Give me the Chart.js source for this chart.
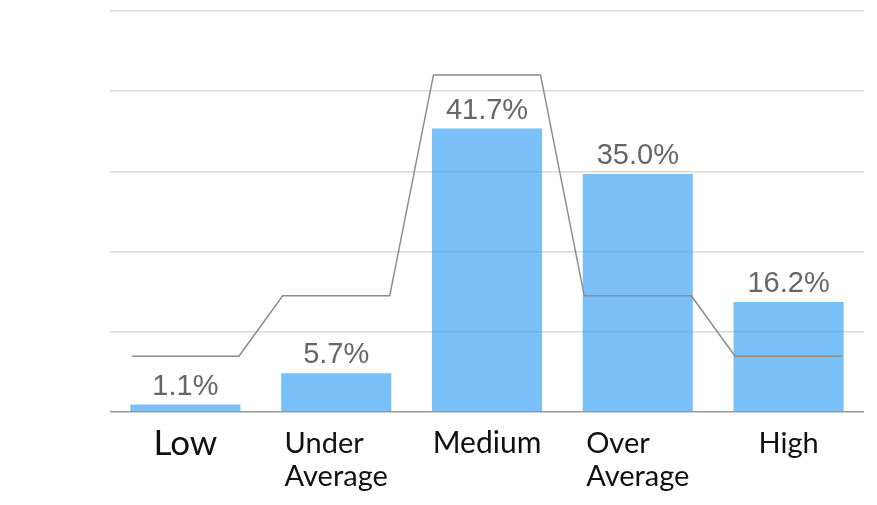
<!DOCTYPE html>
<html>
<head>
<meta charset="utf-8">
<script src="https://cdn.jsdelivr.net/npm/chart.js@4.4.1/dist/chart.umd.min.js"></script>
<style>
  html, body { margin: 0; padding: 0; background: #fff; }
  #wrap { width: 877px; height: 505px; }
</style>
</head>
<body>
<div id="wrap"><canvas id="chart"></canvas></div>
<script>
// category labels, one entry per line
const categories = [["Low"], ["Under", "Average"], ["Medium"], ["Over", "Average"], ["High"]];
// bar values (%)
const shares = [1.1, 5.7, 41.7, 35.0, 16.2];
// gray reference curve (%)
const reference = [8.2, 17.1, 49.6, 17.1, 8.2];

// label font size per category (the source uses uneven sizes)
const labelSizes = [35, 29, 30, 29, 29];
const stepHalf = 0.355;

let refPoints = [];
reference.forEach((v, i) => {
    refPoints.push({ x: i - stepHalf, y: v });
    refPoints.push({ x: i + stepHalf, y: v });
});

const barLabels = {
    id: "barLabels",
    afterDatasetsDraw(chart) {
        let ctx = chart.ctx;
        let meta = chart.getDatasetMeta(0);
        ctx.save();
        ctx.font = "29px 'Liberation Sans', Arial, sans-serif";
        ctx.fillStyle = "#666";
        ctx.textAlign = "center";
        ctx.textBaseline = "alphabetic";
        meta.data.forEach((bar, i) => {
            ctx.fillText(shares[i].toFixed(1) + "%", bar.x, bar.y - 10);
        });
        ctx.restore();
    }
};

const tickLabels = {
    id: "tickLabels",
    afterDraw(chart) {
        let ctx = chart.ctx;
        let xScale = chart.scales.x;
        let bottom = chart.chartArea.bottom;
        ctx.save();
        ctx.fillStyle = "#111";
        ctx.textAlign = "left";
        ctx.textBaseline = "alphabetic";
        categories.forEach((lines, i) => {
            let size = labelSizes[i];
            ctx.font = size + "px Lato, sans-serif";
            let w = Math.max(...lines.map(l => ctx.measureText(l).width));
            let left = xScale.getPixelForValue(i) - w / 2;
            let base = bottom + 41 + (size - 29) / 3;
            lines.forEach((l, k) => ctx.fillText(l, left, base + k * 33));
        });
        ctx.restore();
    }
};

new Chart(document.getElementById("chart").getContext("2d"), {
    type: "bar",
    data: {
        labels: categories.map(c => c.join(" ")),
        datasets: [
            {
                type: "bar",
                data: shares,
                backgroundColor: "rgba(66, 165, 245, 0.7)",
                barPercentage: 0.73,
                categoryPercentage: 1,
                grouped: false,
                order: 2
            },
            {
                type: "line",
                xAxisID: "xl",
                data: refPoints,
                borderColor: "#8c8c8c",
                borderWidth: 1.5,
                pointRadius: 0,
                fill: false,
                tension: 0,
                order: 1
            }
        ]
    },
    options: {
        responsive: true,
        maintainAspectRatio: false,
        animation: false,
        layout: { padding: { left: 110, right: 13, top: 11, bottom: 93 } },
        plugins: {
            legend: { display: false },
            tooltip: { enabled: false }
        },
        scales: {
            x: { display: false, offset: true },
            xl: { type: "linear", display: false, offset: false, min: -0.5, max: 4.5 },
            y: {
                min: 0,
                max: 59,
                ticks: { display: false, count: 6 },
                border: { display: false },
                grid: {
                    drawTicks: false,
                    lineWidth: 1.5,
                    color: ctx => ctx.tick && ctx.tick.value === 0 ? "#9a9a9a" : "#dadada"
                }
            }
        }
    },
    plugins: [barLabels, tickLabels]
});
</script>
</body>
</html>
